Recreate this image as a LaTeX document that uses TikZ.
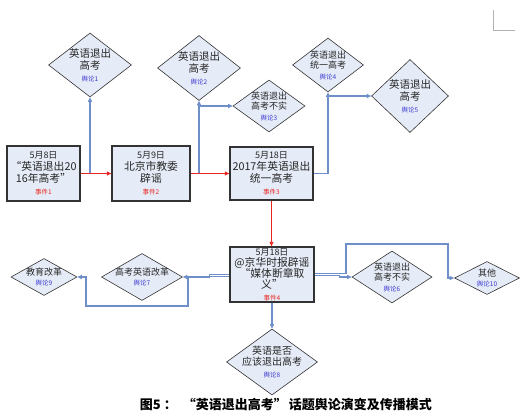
\documentclass[tikz,border=0pt]{standalone}
\usepackage{fontspec}
\setmainfont{Noto Sans CJK SC}
\usepackage{tikz}
\usetikzlibrary{arrows.meta,shapes.geometric,calc}
\definecolor{boxfill}{HTML}{E6ECF7}
\definecolor{linkblue}{HTML}{6F8FC8}
\definecolor{evred}{HTML}{E8261F}
\definecolor{opblue}{HTML}{3A3AD0}
\definecolor{frame}{HTML}{333333}
\newcommand{\evt}[1]{{\color{evred}\fontsize{6.5}{8}\selectfont #1}}
\newcommand{\opn}[1]{{\color{opblue}\fontsize{6.5}{8}\selectfont #1}}
\newcommand{\dte}[1]{{\fontsize{9}{10}\selectfont #1}}

\begin{document}
\begin{tikzpicture}[x=1pt,y=-1pt,>={Triangle[length=4.5pt,width=4pt]},
evbox/.style={rectangle,draw=frame,line width=1.3pt,fill=boxfill,align=center,inner sep=0pt,text=black!85,font=\fontsize{10.8}{12}\selectfont},
opin/.style={diamond,draw=frame,line width=0.6pt,fill=boxfill,inner sep=0pt},
optext/.style={align=center,inner sep=0pt,text=black!85,font=\fontsize{9}{10.5}\selectfont},
bigtext/.style={optext,font=\fontsize{10.5}{12}\selectfont},
redlink/.style={->,draw=evred,line width=0.9pt},
bluelink/.style={->,draw=linkblue,line width=1.1pt}]
\useasboundingbox (0,0) rectangle (522,419);
% events
\node[evbox,minimum width=73pt,minimum height=55pt] (b1) at (43.5,173.5) {\dte{5月8日}\\“英语退出20\\16年高考”\\\evt{事件1}};
\node[evbox,minimum width=78pt,minimum height=55pt] (b2) at (151,173.5) {\dte{5月9日}\\北京市教委\\辟谣\\\evt{事件2}};
\node[evbox,minimum width=83pt,minimum height=53pt] (b3) at (271.5,173.5) {\dte{5月18日}\\2017年英语退出\\统一高考\\\evt{事件3}};
\node[evbox,minimum width=84pt,minimum height=55pt,font=\fontsize{10.8}{11.2}\selectfont] (b4) at (272,274.5) {\dte{5月18日}\\@京华时报辟谣\\“媒体断章取\\义”\\\evt{事件4}};
% opinions
\node[opin,minimum width=83pt,minimum height=64pt] (d1) at (90,65) {};
\node[bigtext] (t1) at (d1) {英语退出\\高考\\\opn{舆论1}};
\node[opin,minimum width=83pt,minimum height=65pt] (d2) at (199,68) {};
\node[bigtext] (t2) at (d2) {英语退出\\高考\\\opn{舆论2}};
\node[opin,minimum width=72pt,minimum height=52pt] (d3) at (269,106) {};
\node[optext] (t3) at (d3) {英语退出\\高考不实\\\opn{舆论3}};
\node[opin,minimum width=71pt,minimum height=54pt] (d4) at (328,65) {};
\node[optext] (t4) at (d4) {英语退出\\统一高考\\\opn{舆论4}};
\node[opin,minimum width=77pt,minimum height=73pt] (d5) at (410,96) {};
\node[bigtext] (t5) at (d5) {英语退出\\高考\\\opn{舆论5}};
\node[opin,minimum width=80pt,minimum height=52pt] (d6) at (392,277) {};
\node[optext] (t6) at (d6) {英语退出\\高考不实\\\opn{舆论6}};
\node[opin,minimum width=81pt,minimum height=47pt] (d7) at (142,277) {};
\node[optext] (t7) at (d7) {高考英语改革\\\opn{舆论7}};
\node[opin,minimum width=91pt,minimum height=66pt] (d8) at (272,362) {};
\node[bigtext,font=\fontsize{10}{11.5}\selectfont] (t8) at (d8) {英语是否\\应该退出高考\\\opn{舆论8}};
\node[opin,minimum width=66pt,minimum height=37pt] (d9) at (44,277) {};
\node[optext] (t9) at (d9) {教育改革\\\opn{舆论9}};
\node[opin,minimum width=65pt,minimum height=33pt] (d10) at (487,278) {};
\node[optext] (t10) at (d10) {其他\\\opn{舆论10}};
% caption
\node[font=\bfseries\fontsize{13}{15}\selectfont] (cap) at (286,405) {图5 ：\ \ “英语退出高考”\,话题舆论演变及传播模式};
\draw[gray!60,line width=0.6pt] (493,10) -- (493,30) -- (515,30);
% links
\coordinate (j1) at (90,173.5); \coordinate (j2) at (199,173.5); \coordinate (k2) at (199,106);
\coordinate (c9a) at (188,306); \coordinate (c9b) at (86,306);
\coordinate (c10a) at (346,244); \coordinate (c10b) at (448,244);
\draw[bluelink] (j1) -- (d1.south); \draw[bluelink] (j2) -- (d2.south); \draw[bluelink] (k2) -- (d3.west);
\draw[bluelink] (b3.east) -| (d4.south); \draw[bluelink] (d4.south |- d5.west) -- (d5.west);
\draw[bluelink] (b4.west) -- ++(-20,0) |- (d7.east);
\draw[bluelink] ([yshift=-2pt]b4.west) -| (c9a) -- (c9b) |- (d9.east);
\draw[bluelink] ([yshift=-1pt]b4.east) -- ++(25,0) |- (d6.west);
\draw[bluelink] ([yshift=1pt]b4.east) -| (c10a) -- (c10b) |- (d10.west);
\draw[bluelink] (b4.south) -- (d8.north);
\draw[redlink] (b1.east) -- (b2.west); \draw[redlink] (b2.east) -- (b3.west);
\draw[redlink] (b3.south) -- (b3.south |- b4.north);
\end{tikzpicture}
\end{document}
